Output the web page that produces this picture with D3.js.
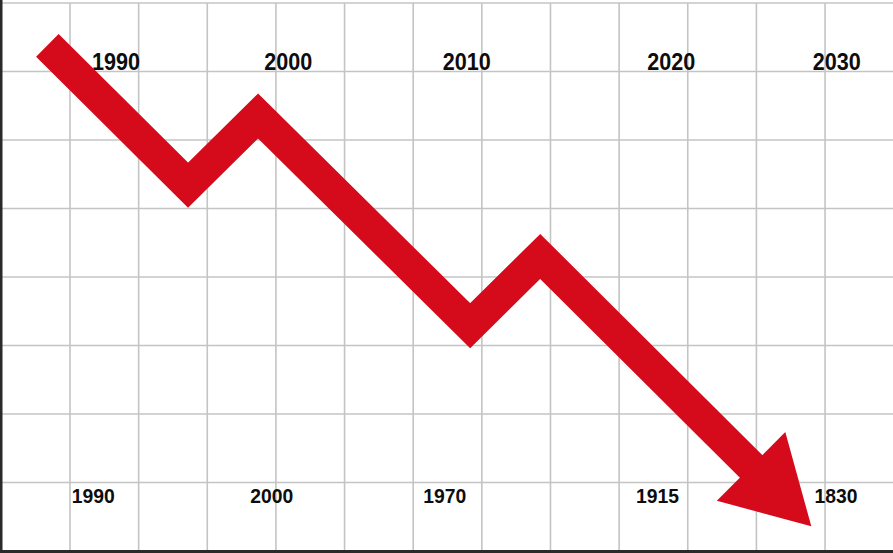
<!DOCTYPE html>
<html><head><meta charset="utf-8">
<script src="https://cdn.jsdelivr.net/npm/d3@7"></script>
<style>html,body{margin:0;padding:0;background:#fff;overflow:hidden}</style>
</head><body><svg id="c" width="893" height="553"></svg>
<script>
// Data (grid units)
const arrowX = [0.67, 2.72, 3.74, 6.83, 7.85, 11.80];
const arrowY = [7.38, 5.34, 6.35, 3.29, 4.30, 0.36];
const topLabels = ["1990", "2000", "2010", "2020", "2030"];
const topLabelX = [1.67, 4.18, 6.78, 9.76, 12.17];
const bottomLabels = ["1990", "2000", "1970", "1915", "1830"];
const bottomLabelX = [1.34, 3.94, 6.46, 9.56, 12.16];
const gridCols = d3.range(0, 13);
const gridRows = d3.range(0, 9);

const W = 893, H = 553;
const svg = d3.select("#c");
const x = d3.scaleLinear().domain([0, 13]).range([1.36, 1.36 + 13 * 68.64]);
const y = d3.scaleLinear().domain([0, 8]).range([551, 3]);

svg.append("rect").attr("width", W).attr("height", H).attr("fill", "#fff");

// grid
const g = svg.append("g");
g.selectAll("line.v").data(gridCols.slice(1)).enter().append("line")
  .attr("x1", d => x(d)).attr("x2", d => x(d)).attr("y1", y(8)).attr("y2", y(0))
  .attr("stroke", "#c4c4c4").attr("stroke-width", 1.6);
g.selectAll("line.h").data(gridRows).enter().append("line")
  .attr("x1", 0).attr("x2", W).attr("y1", d => y(d)).attr("y2", d => y(d))
  .attr("stroke", "#c4c4c4").attr("stroke-width", 1.6);
// borders
svg.append("rect").attr("x", 0).attr("y", 0).attr("width", 2.5).attr("height", H).attr("fill", "#2a2a2a");
svg.append("rect").attr("x", 0).attr("y", 550).attr("width", W).attr("height", 3).attr("fill", "#2a2a2a");

// labels
svg.append("g").selectAll("text").data(topLabels).enter().append("text")
  .attr("x", (d, i) => x(topLabelX[i])).attr("y", 70)
  .attr("text-anchor", "middle")
  .attr("font-family", "Liberation Sans, Arial, sans-serif")
  .attr("font-weight", "bold").attr("font-size", 23.5)
  .attr("textLength", 48).attr("lengthAdjust", "spacingAndGlyphs")
  .attr("fill", "#0d0d0d").text(d => d);
svg.append("g").selectAll("text").data(bottomLabels).enter().append("text")
  .attr("x", (d, i) => x(bottomLabelX[i])).attr("y", 503)
  .attr("text-anchor", "middle")
  .attr("font-family", "Liberation Sans, Arial, sans-serif")
  .attr("font-weight", "bold").attr("font-size", 21)
  .attr("textLength", 43).attr("lengthAdjust", "spacingAndGlyphs")
  .attr("fill", "#0d0d0d").text(d => d);

// arrow
const pts = arrowX.map((v, i) => [x(v), y(arrowY[i])]);
const tip = pts[pts.length - 1], prev = pts[pts.length - 2];
const dx = tip[0] - prev[0], dy = tip[1] - prev[1];
const len = Math.hypot(dx, dy);
const ux = dx / len, uy = dy / len;
const headLen = 85, halfW = 48.5;
const base = [tip[0] - ux * headLen, tip[1] - uy * headLen];
const shaft = pts.slice(0, -1).concat([[base[0] + ux * 8, base[1] + uy * 8]]);
const red = "#d50a1a";
svg.append("path").attr("d", d3.line()(shaft))
  .attr("fill", "none").attr("stroke", red).attr("stroke-width", 32)
  .attr("stroke-linejoin", "miter").attr("stroke-linecap", "butt");
const px = -uy, py = ux;
svg.append("path").attr("d", d3.line()([
  tip,
  [base[0] + px * halfW, base[1] + py * halfW],
  [base[0] - px * halfW, base[1] - py * halfW]
]) + "Z").attr("fill", red);
</script></body></html>
